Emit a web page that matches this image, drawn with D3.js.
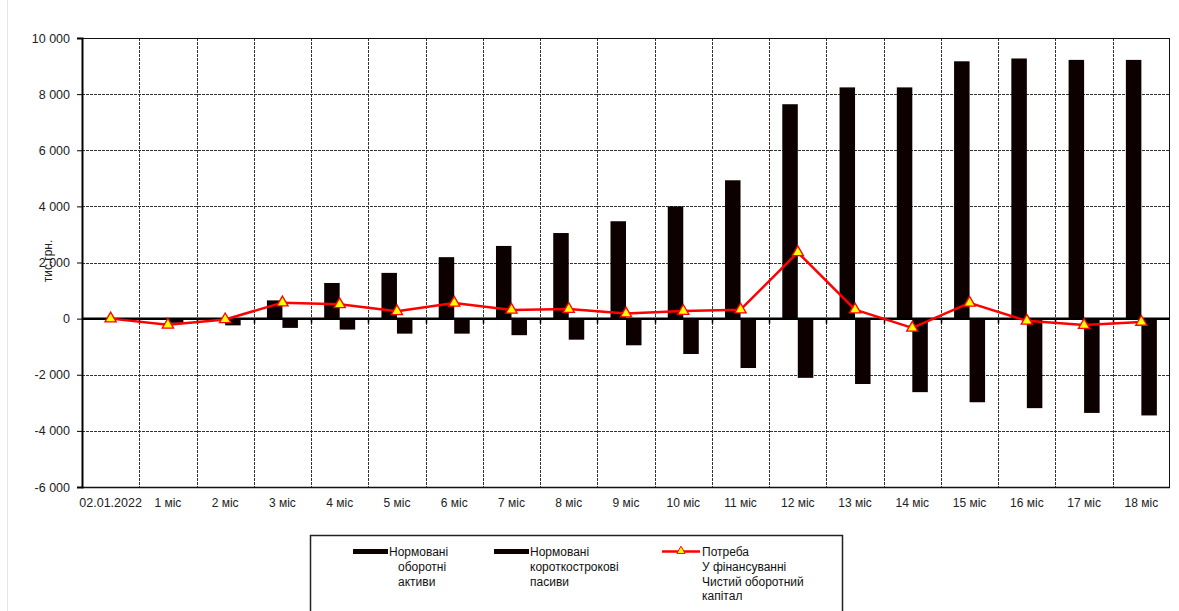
<!DOCTYPE html>
<html>
<head>
<meta charset="utf-8">
<script src="https://cdn.jsdelivr.net/npm/d3@7"></script>
<style>
  html, body { margin: 0; padding: 0; background: #fff; }
  svg { display: block; font-family: "Liberation Sans", Arial, sans-serif; }
</style>
</head>
<body>
<svg id="chart" width="1179" height="611"></svg>
<script>
const categories = ["02.01.2022", "1 міс", "2 міс", "3 міс", "4 міс", "5 міс", "6 міс", "7 міс", "8 міс", "9 міс",
  "10 міс", "11 міс", "12 міс", "13 міс", "14 міс", "15 міс", "16 міс", "17 міс", "18 міс"];
const assets = [0, 0, 0, 650, 1270, 1630, 2190, 2590, 3050, 3470, 4000, 4930, 7640, 8240, 8240, 9170, 9270, 9220, 9220];
const liabilities = [0, -150, -240, -330, -390, -535, -535, -590, -750, -950, -1260, -1760, -2110, -2330, -2620, -2980, -3190, -3360, -3450];
const need = [0, -220, -30, 570, 510, 260, 560, 310, 340, 180, 270, 320, 2360, 320, -330, 560, -80, -230, -120];
const yTicks = [-6000, -4000, -2000, 0, 2000, 4000, 6000, 8000, 10000];
const yTitle = "тис.грн.";
const legendAssets = ["Нормовані", "оборотні", "активи"];
const legendLiab = ["Нормовані", "короткострокові", "пасиви"];
const legendNeed = ["Потреба", "У фінансуванні", "Чистий оборотний", "капітал"];

const svg = d3.select("#chart");
const L = 82, R = 1170, T = 38, B = 487;
const x = d3.scaleBand().domain(categories).range([L, R]);
const bw = 15.5;
const xs = d3.scaleBand().domain(["a", "l"]).range([x.bandwidth() / 2 - bw, x.bandwidth() / 2 + bw]);
const y = d3.scaleLinear().domain([-6000, 10000]).range([B, T]);
const loc = d3.formatLocale({decimal: ",", thousands: " ", grouping: [3], currency: ["", ""], minus: "-"});
const fmt = loc.format(",");

// faint outer border on the left
svg.append("line").attr("x1", 7.5).attr("x2", 7.5).attr("y1", 0).attr("y2", 611)
  .attr("stroke", "#e6e6e6").attr("stroke-width", 1);

// horizontal gridlines
svg.append("g").selectAll("line").data(yTicks).join("line")
  .attr("x1", L).attr("x2", R)
  .attr("y1", d => Math.round(y(d)) + 0.5).attr("y2", d => Math.round(y(d)) + 0.5)
  .attr("stroke", "#333").attr("stroke-width", 1).attr("stroke-dasharray", "3,1");

// vertical gridlines at category boundaries
svg.append("g").selectAll("line").data(categories.slice(1)).join("line")
  .attr("x1", d => Math.round(x(d)) + 0.5).attr("x2", d => Math.round(x(d)) + 0.5)
  .attr("y1", T).attr("y2", B)
  .attr("stroke", "#333").attr("stroke-width", 1).attr("stroke-dasharray", "3,1");

// plot border
svg.append("line").attr("x1", L).attr("x2", R).attr("y1", T + 0.5).attr("y2", T + 0.5).attr("stroke", "#111");
svg.append("line").attr("x1", L).attr("x2", R).attr("y1", B + 0.5).attr("y2", B + 0.5).attr("stroke", "#111").attr("stroke-width", 1.5);
svg.append("line").attr("x1", R - 0.5).attr("x2", R - 0.5).attr("y1", T).attr("y2", B).attr("stroke", "#111");

// bars
const barColor = "#0d0000";
svg.append("g").selectAll("rect").data(categories).join("rect")
  .attr("x", d => x(d) + xs("a"))
  .attr("width", xs.bandwidth())
  .attr("y", (d, i) => y(Math.max(0, assets[i])))
  .attr("height", (d, i) => Math.abs(y(assets[i]) - y(0)))
  .attr("fill", barColor);
svg.append("g").selectAll("rect").data(categories).join("rect")
  .attr("x", d => x(d) + xs("l"))
  .attr("width", xs.bandwidth())
  .attr("y", (d, i) => y(Math.max(0, liabilities[i])))
  .attr("height", (d, i) => Math.abs(y(liabilities[i]) - y(0)))
  .attr("fill", barColor);

// y axis
const yAxis = svg.append("g").attr("transform", `translate(${L},0)`)
  .call(d3.axisLeft(y).tickValues(yTicks).tickFormat(fmt).tickSize(5).tickPadding(7));
yAxis.select(".domain").attr("stroke", "#000").attr("stroke-width", 2);
yAxis.selectAll(".tick line").attr("stroke", "#000");
yAxis.selectAll("text").attr("font-size", 12.5).attr("fill", "#222").attr("font-family", "Liberation Sans, Arial, sans-serif");

// zero line with ticks at category boundaries
svg.append("line").attr("x1", L).attr("x2", R).attr("y1", y(0)).attr("y2", y(0))
  .attr("stroke", "#000").attr("stroke-width", 2.5);
svg.append("g").selectAll("line").data(categories.slice(1)).join("line")
  .attr("x1", d => Math.round(x(d)) + 0.5).attr("x2", d => Math.round(x(d)) + 0.5)
  .attr("y1", y(0)).attr("y2", y(0) + 5)
  .attr("stroke", "#000").attr("stroke-width", 1.5);

// x labels
svg.append("g").selectAll("text").data(categories).join("text")
  .attr("x", d => x(d) + x.bandwidth() / 2)
  .attr("y", 507)
  .attr("text-anchor", "middle")
  .attr("font-size", (d, i) => i === 0 ? 12.5 : 12)
  .attr("fill", "#222")
  .text(d => d);

// y title
svg.append("text")
  .attr("transform", "translate(52,261) rotate(-90)")
  .attr("text-anchor", "middle")
  .attr("font-size", 12)
  .attr("fill", "#222")
  .text(yTitle);

// line + markers
const lineGen = d3.line().x((d, i) => x(categories[i]) + x.bandwidth() / 2).y(d => y(d));
svg.append("path").datum(need).attr("d", lineGen)
  .attr("fill", "none").attr("stroke", "#ff0000").attr("stroke-width", 2.5).attr("stroke-linejoin", "round");
const tri = d3.symbol().type(d3.symbolTriangle).size(55);
svg.append("g").selectAll("path").data(need).join("path")
  .attr("transform", (d, i) => `translate(${x(categories[i]) + x.bandwidth() / 2},${y(d)})`)
  .attr("d", tri)
  .attr("fill", "#ffff00").attr("stroke", "#ff0000").attr("stroke-width", 1.3);

// legend
const lg = svg.append("g");
lg.append("rect").attr("x", 310.5).attr("y", 535.5).attr("width", 532).attr("height", 90)
  .attr("fill", "#fff").attr("stroke", "#222").attr("stroke-width", 1.5);
const lh = 14.8, ly0 = 556;
lg.append("rect").attr("x", 353).attr("y", 549).attr("width", 35).attr("height", 5).attr("fill", barColor);
lg.append("g").selectAll("text").data(legendAssets).join("text")
  .attr("x", (d, i) => i === 0 ? 389 : 398).attr("y", (d, i) => ly0 + i * lh)
  .attr("font-size", 12).attr("fill", "#111").text(d => d);
lg.append("rect").attr("x", 494).attr("y", 549).attr("width", 35).attr("height", 5).attr("fill", barColor);
lg.append("g").selectAll("text").data(legendLiab).join("text")
  .attr("x", 530).attr("y", (d, i) => ly0 + i * lh)
  .attr("font-size", 12).attr("fill", "#111").text(d => d);
lg.append("line").attr("x1", 662).attr("x2", 700).attr("y1", 551.5).attr("y2", 551.5)
  .attr("stroke", "#ff0000").attr("stroke-width", 2.5);
lg.append("path").attr("transform", "translate(681,551)").attr("d", d3.symbol().type(d3.symbolTriangle).size(30))
  .attr("fill", "#ffff00").attr("stroke", "#ff0000").attr("stroke-width", 1);
lg.append("g").selectAll("text").data(legendNeed).join("text")
  .attr("x", 702).attr("y", (d, i) => ly0 + i * lh)
  .attr("font-size", 12).attr("fill", "#111").text(d => d);
</script>
</body>
</html>
